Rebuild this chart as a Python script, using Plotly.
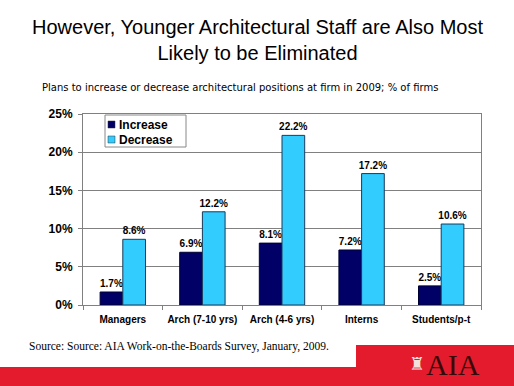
import plotly.graph_objects as go

categories = ["Managers", "Arch (7-10 yrs)", "Arch (4-6 yrs)", "Interns", "Students/p-t"]
increase = [1.7, 6.9, 8.1, 7.2, 2.5]
decrease = [8.6, 12.2, 22.2, 17.2, 10.6]
y_ticks = [0, 5, 10, 15, 20, 25]
y_tick_labels = ["0%", "5%", "10%", "15%", "20%", "25%"]
series_names = ["Increase", "Decrease"]
series_colors = ["#000066", "#33CCFF"]

label_font = dict(family="Liberation Sans, Arial", size=10, color="black", weight="bold")

fig = go.Figure()
for name, vals, col, lc in zip(series_names, [increase, decrease], series_colors, ["#000033", "#1a3a5a"]):
    fig.add_trace(go.Bar(
        name=name, x=categories, y=vals,
        marker=dict(color=col, line=dict(color=lc, width=1)),
        text=[f"{v:.1f}%" for v in vals], textposition="outside",
        textfont=label_font, constraintext="none",
        cliponaxis=False, showlegend=False,
    ))

W, L, R, T, B = 514, 83, 33, 114, 81
PW = W - L - R
PH = 386 - T - B
def px(x):
    return (x - L) / PW
def py(y):
    return (386 - B - y) / PH

shapes = [
    dict(type="rect", xref="paper", yref="paper", x0=px(0), x1=px(514),
         y0=py(386), y1=py(367), fillcolor="#E31B2D", line_width=0, layer="below"),
    dict(type="rect", xref="paper", yref="paper", x0=px(356), x1=px(514),
         y0=py(386), y1=py(345), fillcolor="#E31B2D", line_width=0, layer="below"),
    # legend box
    dict(type="rect", xref="paper", yref="paper", x0=px(105), x1=px(186),
         y0=py(147), y1=py(115), fillcolor="white", line=dict(color="#888888", width=1)),
]
annotations = []
for i, (name, col) in enumerate(zip(series_names, series_colors)):
    yc = 124.5 + i * 15
    shapes.append(dict(type="rect", xref="paper", yref="paper", x0=px(108), x1=px(115),
                       y0=py(yc + 3.5), y1=py(yc - 3.5), fillcolor=col,
                       line=dict(color="#333333", width=0.5)))
    annotations.append(dict(text=name, xref="paper", yref="paper", x=px(117), y=py(yc),
                            xanchor="left", yanchor="middle", showarrow=False,
                            font=dict(family="Liberation Sans, Arial", size=12, color="black", weight="bold")))

annotations += [
    dict(text="However, Younger Architectural Staff are Also Most<br>Likely to be Eliminated",
         xref="paper", yref="paper", x=px(257), y=py(40),
         xanchor="center", yanchor="middle", showarrow=False,
         font=dict(family="Liberation Sans, Arial", size=20, color="black")),
    dict(text="Plans to increase or decrease architectural positions at firm in 2009; % of firms",
         xref="paper", yref="paper", x=px(40), y=py(87),
         xanchor="left", yanchor="middle", showarrow=False,
         font=dict(family="DejaVu Sans, Verdana", size=10, color="black")),
    dict(text="Source: Source: AIA Work-on-the-Boards Survey, January, 2009.",
         xref="paper", yref="paper", x=px(27), y=py(346),
         xanchor="left", yanchor="middle", showarrow=False,
         font=dict(family="Liberation Serif, Times New Roman", size=11.5, color="black")),
    dict(text="AIA",
         xref="paper", yref="paper", x=px(453), y=py(364),
         xanchor="center", yanchor="middle", showarrow=False,
         font=dict(family="Liberation Serif, Times New Roman", size=30, color="#3a0a0a")),
    dict(text="♜",
         xref="paper", yref="paper", x=px(417), y=py(363),
         xanchor="center", yanchor="middle", showarrow=False,
         font=dict(family="DejaVu Sans", size=18, color="#f4dede")),
]

fig.update_layout(
    width=514, height=386,
    margin=dict(l=L, r=R, t=T, b=B),
    paper_bgcolor="white", plot_bgcolor="white",
    barmode="group", bargap=0.43, bargroupgap=0,
    font=dict(family="Liberation Sans, Arial", color="black"),
    showlegend=False,
    xaxis=dict(
        showline=True, linecolor="#808080", linewidth=1, mirror=True,
        ticks="outside", tickson="boundaries", ticklen=4, tickcolor="#808080",
        ticklabelstandoff=5,
        tickfont=dict(size=10, weight="bold", family="Liberation Sans, Arial"),
    ),
    yaxis=dict(
        range=[0, 25], tickvals=y_ticks, ticktext=y_tick_labels,
        showgrid=True, gridcolor="#808080", gridwidth=1,
        showline=True, linecolor="#808080", linewidth=1, mirror=True,
        ticks="outside", ticklen=4, tickcolor="#808080",
        ticklabelstandoff=3,
        tickfont=dict(size=12, weight="bold", family="Liberation Sans, Arial"),
        zeroline=False,
    ),
    shapes=shapes,
    annotations=annotations,
)

fig.write_html("out.html", config={"displayModeBar": False},
               post_script="document.body.style.margin='0';document.body.style.padding='0';")
